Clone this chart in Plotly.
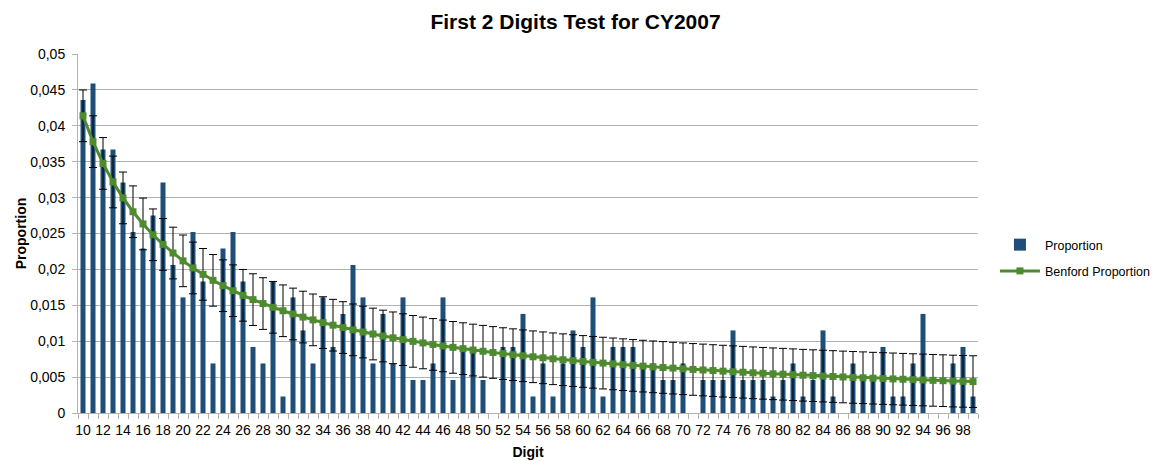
import plotly.graph_objects as go

digits = list(range(10, 100))

proportion = [
    0.0436, 0.0459, 0.0367, 0.0367, 0.0321, 0.0252, 0.0229, 0.0275, 0.0321, 0.0206,
    0.0161, 0.0252, 0.0183, 0.0069, 0.0229, 0.0252, 0.0183, 0.0092, 0.0069, 0.0183,
    0.0023, 0.0161, 0.0115, 0.0069, 0.0161, 0.0092, 0.0138, 0.0206, 0.0161, 0.0069,
    0.0138, 0.0069, 0.0161, 0.0046, 0.0046, 0.0069, 0.0161, 0.0046, 0.0092, 0.0092,
    0.0046, 0.0, 0.0092, 0.0092, 0.0138, 0.0023, 0.0069, 0.0023, 0.0069, 0.0115,
    0.0092, 0.0161, 0.0023, 0.0092, 0.0092, 0.0092, 0.0069, 0.0069, 0.0046, 0.0046,
    0.0069, 0.0, 0.0046, 0.0046, 0.0046, 0.0115, 0.0046, 0.0046, 0.0046, 0.0023,
    0.0046, 0.0069, 0.0023, 0.0046, 0.0115, 0.0023, 0.0, 0.0069, 0.0046, 0.0046,
    0.0092, 0.0023, 0.0023, 0.0069, 0.0138, 0.0, 0.0, 0.0069, 0.0092, 0.0023,
]

benford = [
    0.04139, 0.03779, 0.03476, 0.03218, 0.02996, 0.02803, 0.02633, 0.02482, 0.02348, 0.02228,
    0.02119, 0.02020, 0.01931, 0.01848, 0.01773, 0.01703, 0.01639, 0.01579, 0.01524, 0.01472,
    0.01424, 0.01379, 0.01336, 0.01297, 0.01259, 0.01223, 0.01190, 0.01158, 0.01128, 0.01100,
    0.01072, 0.01047, 0.01022, 0.00998, 0.00976, 0.00955, 0.00934, 0.00914, 0.00896, 0.00877,
    0.00860, 0.00843, 0.00827, 0.00812, 0.00797, 0.00783, 0.00769, 0.00755, 0.00742, 0.00730,
    0.00718, 0.00706, 0.00695, 0.00684, 0.00673, 0.00663, 0.00653, 0.00643, 0.00634, 0.00625,
    0.00616, 0.00607, 0.00599, 0.00591, 0.00583, 0.00575, 0.00568, 0.00560, 0.00553, 0.00546,
    0.00540, 0.00533, 0.00526, 0.00520, 0.00514, 0.00508, 0.00502, 0.00496, 0.00491, 0.00485,
    0.00480, 0.00475, 0.00470, 0.00465, 0.00460, 0.00455, 0.00450, 0.00445, 0.00441, 0.00437,
]

benford_err = 0.0036

x_tickvals = list(range(10, 100, 2))
x_ticktext = [str(v) for v in x_tickvals]
y_tickvals = [0, 0.005, 0.01, 0.015, 0.02, 0.025, 0.03, 0.035, 0.04, 0.045, 0.05]
y_ticktext = ["0", "0,005", "0,01", "0,015", "0,02", "0,025", "0,03", "0,035", "0,04", "0,045", "0,05"]

BAR_COLOR = "#1F4E79"
GREEN = "#4E8A2E"
FONT = "Liberation Sans, Arial, sans-serif"

fig = go.Figure()
fig.add_trace(go.Bar(
    x=digits, y=proportion, name="Proportion", legendgroup="a",
    marker=dict(color=BAR_COLOR, line=dict(width=0)),
    width=0.5,
))
fig.add_trace(go.Scatter(
    x=digits, y=benford, name="Benford Proportion", legendgroup="b",
    mode="lines+markers",
    line=dict(color=GREEN, width=3),
    marker=dict(symbol="square", size=7, color=GREEN),
    error_y=dict(type="constant", value=benford_err, color="black", thickness=1, width=4),
))

fig.update_layout(
    width=1158, height=461,
    margin=dict(l=78, r=180, t=54, b=48),
    paper_bgcolor="white", plot_bgcolor="white",
    font=dict(family=FONT, size=14, color="#000000"),
    title=dict(text="<b>First 2 Digits Test for CY2007</b>", x=0.497, xanchor="center",
               y=0.952, yanchor="middle", font=dict(size=21, family=FONT)),
    showlegend=True,
    legend=dict(xref="container", yref="container", x=0.8592, xanchor="left",
                y=0.4403, yanchor="middle",
                font=dict(size=12.5), bgcolor="rgba(0,0,0,0)", tracegroupgap=7,
                itemwidth=40),
)
fig.update_xaxes(
    range=[9.5, 99.5], automargin=False,
    tickmode="array", tickvals=x_tickvals, ticktext=x_ticktext,
    ticks="outside", ticklen=4, tickcolor="rgba(0,0,0,0)",
    showgrid=False, zeroline=False,
    showline=True, linecolor="#B3B3B3", linewidth=1,
    minor=dict(ticks="outside", ticklen=5, tick0=9.5, dtick=1, tickcolor="#B3B3B3", showgrid=False),
    tickfont=dict(size=14),
    title=dict(text="<b>Digit</b>", font=dict(size=14), standoff=10),
)
fig.update_yaxes(
    range=[0, 0.05], automargin=False,
    tickmode="array", tickvals=y_tickvals, ticktext=y_ticktext,
    ticks="outside", ticklen=5, tickcolor="#B3B3B3", ticklabelstandoff=4,
    showgrid=True, gridcolor="#B3B3B3", gridwidth=1,
    zeroline=False, showline=True, linecolor="#B3B3B3", linewidth=1,
    tickfont=dict(size=14),
    title=dict(text="<b>Proportion</b>", font=dict(size=14), standoff=0),
)

fig.write_html("out.html", config={"displayModeBar": False},
               post_script="document.body.style.margin='0';")
